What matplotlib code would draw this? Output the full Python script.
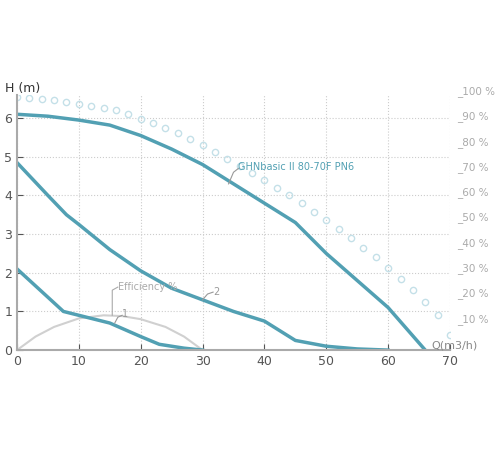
import numpy as np
import matplotlib.pyplot as plt

# pump curves (Q in m3/h, H in m)
q_main = [0, 5, 10, 15, 20, 25, 30, 35, 40, 45, 50, 55, 60, 66]
h_main = [6.1, 6.05, 5.95, 5.82, 5.55, 5.2, 4.8, 4.3, 3.8, 3.3, 2.5, 1.8, 1.1, 0]
q_2 = [0, 5, 8, 10, 15, 20, 25, 30, 35, 40, 45, 50, 55, 60]
h_2 = [4.85, 4.0, 3.5, 3.25, 2.6, 2.05, 1.6, 1.3, 1.0, 0.75, 0.25, 0.1, 0.03, 0]
q_1 = [0, 7.5, 10, 15, 20, 23, 27, 30]
h_1 = [2.1, 1.0, 0.9, 0.7, 0.35, 0.15, 0.05, 0]
q_eff = [0, 3, 6, 10, 14, 17, 20, 24, 27, 30]
h_eff = [0, 0.35, 0.6, 0.82, 0.9, 0.88, 0.8, 0.6, 0.35, 0]
# dotted curve
q_dot = [0, 2, 4, 6, 8, 10, 12, 14, 16, 18, 20, 22, 24, 26, 28, 30, 32, 34, 36,
         38, 40, 42, 44, 46, 48, 50, 52, 54, 56, 58, 60, 62, 64, 66, 68, 70]
h_dot = [6.55, 6.53, 6.5, 6.47, 6.42, 6.37, 6.32, 6.27, 6.2, 6.1, 5.98, 5.88, 5.75,
         5.62, 5.47, 5.3, 5.13, 4.95, 4.77, 4.58, 4.39, 4.2, 4.0, 3.8, 3.58, 3.36,
         3.13, 2.9, 2.65, 2.4, 2.12, 1.85, 1.55, 1.25, 0.9, 0.4]
pct_ticks = [10, 20, 30, 40, 50, 60, 70, 80, 90, 100]

teal = '#52a0b3'
grey = '#999999'

fig = plt.figure(figsize=(5, 4.5), dpi=100)
ax = fig.add_axes([0.034, 0.222, 0.866, 0.567])

ax.plot(q_dot, h_dot, 'o', markersize=4.5, markerfacecolor='none',
        markeredgecolor='#c4e0e8', markeredgewidth=1)
ax.plot(q_eff, h_eff, color='#d0d0d0', linewidth=1.5)
ax.plot(q_main, h_main, color=teal, linewidth=2.5)
ax.plot(q_2, h_2, color=teal, linewidth=2.5)
ax.plot(q_1, h_1, color=teal, linewidth=2.5)

ax.set_xlim(0, 70)
ax.set_ylim(0, 6.6)
ax.set_xticks(range(0, 71, 10))
ax.set_yticks(range(0, 7))
ax.tick_params(colors='#555555', labelsize=9, length=4, direction='in')
ax.grid(True, color='#cccccc', linestyle=':', linewidth=0.8)
for s in ['top', 'right']:
    ax.spines[s].set_visible(False)
for s in ['left', 'bottom']:
    ax.spines[s].set_color('#aaaaaa')
    ax.spines[s].set_linewidth(1.5)

# curve labels
ax.text(16.3, 1.55, 'Efficiency %', fontsize=7, color='#aaaaaa')
ax.plot([16.3, 15.4, 15.4], [1.63, 1.55, 0.9], color='#aaaaaa', lw=0.8)
ax.text(17.0, 0.85, '1', fontsize=7, color=grey)
ax.plot([15.8, 16.3, 17.0], [0.7, 0.85, 0.9], color=grey, lw=0.8)
ax.text(31.7, 1.42, '2', fontsize=7, color=grey)
ax.plot([30, 30.8, 31.7], [1.3, 1.45, 1.5], color=grey, lw=0.8)
ax.text(35.8, 4.65, 'GHNbasic II 80-70F PN6', fontsize=7, color=teal)
ax.plot([34.2, 35, 35.8], [4.3, 4.6, 4.7], color=grey, lw=0.8)

fig.text(0.01, 0.795, 'H (m)', fontsize=9, color='#333333')
for p in pct_ticks:
    y = p / 100 * 6.55
    ax.text(71.2, y, '_%d %%' % p, fontsize=7.5, color='#aaaaaa', va='bottom')
ax.text(67, 0.05, 'Q(m3/h)', fontsize=8, color='#888888')

fig.savefig('out.png')
